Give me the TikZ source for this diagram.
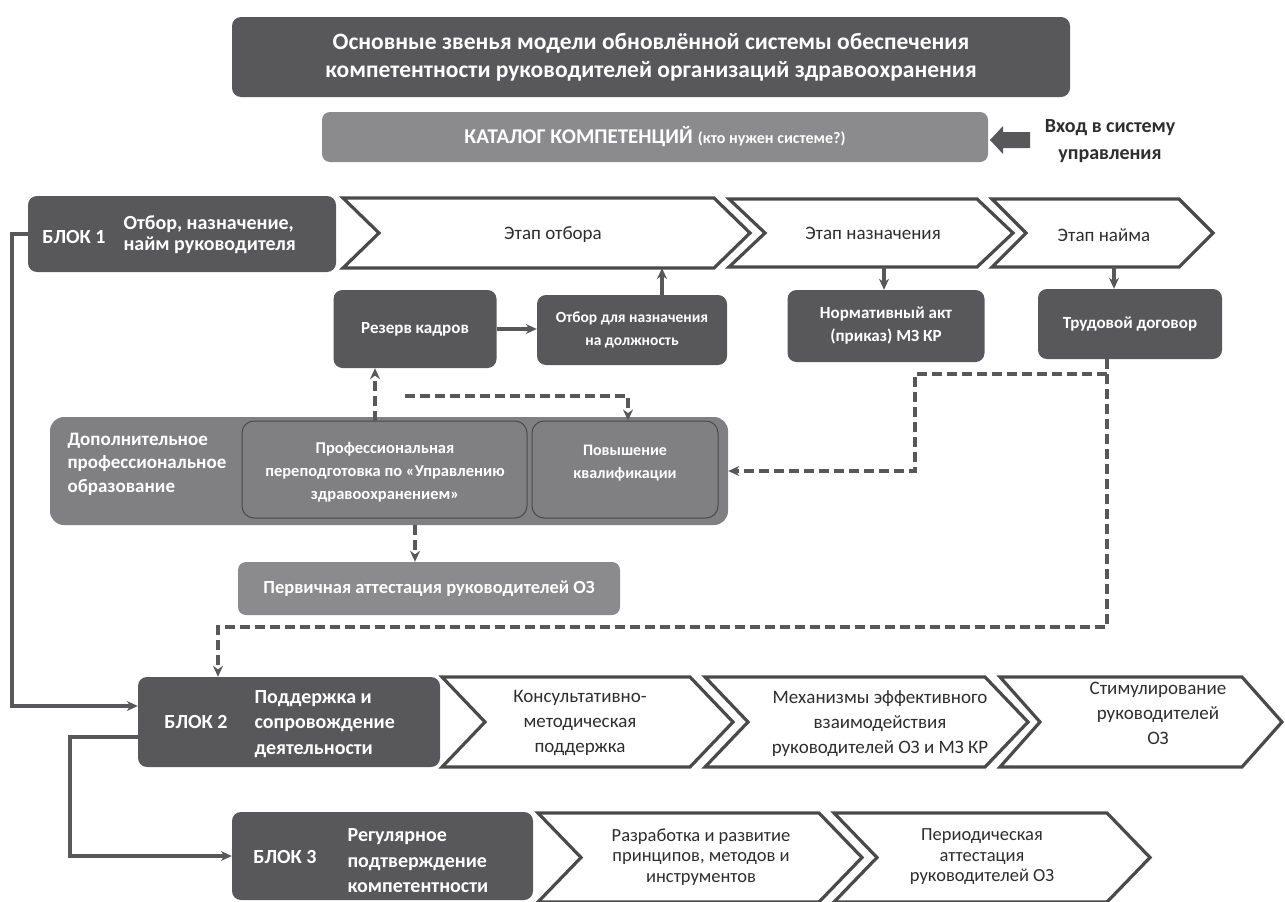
\documentclass[tikz,border=0pt]{standalone}
\usepackage{fontspec}
\setmainfont{Carlito}
\usetikzlibrary{arrows.meta}
\definecolor{dk}{HTML}{58585A}
\definecolor{md}{HTML}{8B8B8D}
\definecolor{dpo}{HTML}{808082}
\definecolor{ln}{HTML}{58585A}
\definecolor{chb}{HTML}{4A4A4A}
\definecolor{tx}{HTML}{2E2E2E}
\newcommand{\chev}[5]{% x1, x2, ytop, ybot, depth
  \draw[chevline] (#1,#3) -- ({#2-#5},#3) -- (#2,{(#3+#4)/2}) -- ({#2-#5},#4) -- (#1,#4) -- ({#1+#5},{(#3+#4)/2}) -- cycle;}
\begin{document}
\begin{tikzpicture}[x=1pt,y=-1pt,
  darkbox/.style={rounded corners=9pt, fill=dk, draw=none, text=white, align=center, inner sep=0pt},
  midbox/.style={rounded corners=8pt, fill=md, draw=none, text=white, align=center, inner sep=0pt},
  innerbox/.style={rounded corners=12pt, fill=dpo, draw=chb, line width=1pt, text=white, align=center, inner sep=0pt},
  chevline/.style={draw=chb, line width=3.2pt, fill=white, line join=miter},
  chevtext/.style={text=tx, align=center, font=\fontsize{19}{25}\selectfont},
  boxtxt/.style={text=white, align=center, font=\fontsize{17}{23}\selectfont\bfseries},
  blklab/.style={text=white, font=\fontsize{20}{24}\selectfont\bfseries},
  blktxt/.style={text=white, align=left, anchor=west, font=\fontsize{20}{25.5}\selectfont\bfseries},
  conn/.style={draw=ln, line width=3.4pt, -{Stealth[length=11pt,width=10pt]}},
  dconn/.style={draw=ln, line width=3.4pt, dash pattern=on 10pt off 5pt, -{Stealth[length=11pt,width=10pt]}},
  dline/.style={draw=ln, line width=3.4pt, dash pattern=on 10pt off 5pt},
  sconn/.style={draw=ln, line width=3.4pt, -{Stealth[length=11pt,width=10pt]}},
]
\useasboundingbox (0,0) rectangle (1285,902);
\fill[white] (0,0) rectangle (1285,902);

% title
\node[darkbox, minimum width=838pt, minimum height=80pt, font=\fontsize{23.5}{28}\selectfont\bfseries] (title) at (651,57)
  {Основные звенья модели обновлённой системы обеспечения\\компетентности руководителей организаций здравоохранения};

% catalog
\node[midbox, minimum width=666pt, minimum height=50pt] (cat) at (655,137)
  {{\fontsize{21}{24}\selectfont\bfseries КАТАЛОГ КОМПЕТЕНЦИЙ}\hspace{5pt}{\fontsize{16}{18}\selectfont\bfseries (кто нужен системе?)}};
\fill[dk] (1030,132) -- (1003,132) -- (1003,126) -- (990,140) -- (1003,154) -- (1003,148) -- (1030,148) -- cycle;
\node[text=tx, align=center, font=\fontsize{20}{27}\selectfont\bfseries] (entry) at (1110,141) {Вход в систему\\управления};

% block 1
\node[darkbox, minimum width=308pt, minimum height=76pt] (b1) at (182,234) {};
\node[blklab] (b1lab) at (74,237) {БЛОК 1};
\node[blktxt, font=\fontsize{20}{21}\selectfont\bfseries] (b1txt) at (120,235) {Отбор, назначение,\\найм руководителя};

% row 1 chevrons
\chev{343}{750}{198}{268}{36}
\chev{729}{1013}{199}{267}{36}
\chev{992}{1213}{199}{267}{34}
\node[chevtext] (e1) at (553,235) {Этап отбора};
\node[chevtext] (e2) at (873,233) {Этап назначения};
\node[chevtext] (e3) at (1104,235) {Этап найма};
\coordinate (e1b) at (662,268);
\coordinate (e2b) at (884,267);
\coordinate (e3b) at (1114,267);

% row 1 boxes
\node[darkbox, minimum width=163pt, minimum height=78pt] (rez) at (415,329) {};
\node[boxtxt] (reztxt) at (rez.center) {Резерв кадров};
\node[darkbox, minimum width=190pt, minimum height=70pt] (otb) at (632,330) {};
\node[boxtxt, font=\fontsize{15.5}{23}\selectfont\bfseries] (otbtxt) at (otb.center) {Отбор для назначения\\на должность};
\node[darkbox, minimum width=197pt, minimum height=72pt] (norm) at (886,326) {};
\node[boxtxt] (normtxt) at (norm.center) {Нормативный акт\\(приказ) МЗ КР};
\node[darkbox, minimum width=184pt, minimum height=70pt] (trud) at (1130,324) {};
\node[boxtxt] (trudtxt) at (trud.center) {Трудовой договор};

\draw[conn] (rez.east) -- (rez.east -| otb.west);
\draw[conn] (otb.north -| e1b) -- (e1b);
\draw[conn] (e2b) -- (e2b |- norm.north);
\draw[conn] (e3b) -- (e3b |- trud.north);

% DPO
\node[rounded corners=14pt, fill=dpo, minimum width=678pt, minimum height=108pt, inner sep=0pt] (dpo) at (389,471) {};
\node[text=white, align=left, anchor=west, font=\fontsize{19}{23.5}\selectfont\bfseries] (dpotxt) at (64,464)
  {Дополнительное\\профессиональное\\образование};
\node[innerbox, minimum width=285pt, minimum height=97pt] (prof) at (384.5,469.5) {};
\node[boxtxt, font=\fontsize{16.5}{23}\selectfont\bfseries] (proftxt) at (385,472) {Профессиональная\\переподготовка по «Управлению\\здравоохранением»};
\node[innerbox, minimum width=186pt, minimum height=97pt] (pov) at (625,469.5) {};
\node[boxtxt, font=\fontsize{16}{23}\selectfont\bfseries] (povtxt) at (625,463) {Повышение\\квалификации};

\node[midbox, minimum width=382pt, minimum height=53pt, font=\fontsize{18.5}{20}\selectfont\bfseries] (perv) at (429,588.5)
  {Первичная аттестация руководителей ОЗ};

% dashed connectors
\coordinate (pa) at (375,0);
\draw[dconn] (prof.north -| pa) -- (rez.south -| pa);
\coordinate (q0) at (405,396);
\draw[dconn] (q0) -| ([xshift=3pt]pov.north);
\coordinate (tbx) at (1107,0);
\coordinate (tk) at (1107,374);
\draw[dline] (trud.south -| tbx) -- (tk);
\coordinate (k1) at (915,374);
\draw[dconn] (tk) -- (k1) |- (dpo.east);
\coordinate (px) at (415,0);
\draw[dconn] (dpo.south -| px) -- (perv.north -| px);

% block 2
\node[darkbox, minimum width=302pt, minimum height=90pt] (b2) at (289,722) {};
\node[blklab] (b2lab) at (196,722) {БЛОК 2};
\node[blktxt] (b2txt) at (251,724) {Поддержка и\\сопровождение\\деятельности};

\coordinate (c218) at (218,627);
\draw[dconn] (tk) |- (c218) -- (b2.north -| c218);

% block 3
\node[darkbox, minimum width=301pt, minimum height=88pt] (b3) at (382.5,856) {};
\node[blklab] (b3lab) at (285,857) {БЛОК 3};
\node[blktxt] (b3txt) at (344,861) {Регулярное\\подтверждение\\компетентности};

% solid connectors
\coordinate (s1) at (12,706);
\draw[sconn] (b1.west) -| (s1) -- (b2.west |- s1);
\coordinate (s2) at (70,737);
\draw[sconn] (b2.west |- s2) -- (s2) |- (b3.west);

% row 2 chevrons
\chev{442}{733}{677}{767}{43}
\chev{705}{1028}{677}{767}{43}
\chev{1000}{1282}{677}{767}{40}
\node[chevtext] (k1t) at (580,723) {Консультативно-\\методическая\\поддержка};
\node[chevtext] (k2t) at (880,724) {Механизмы эффективного\\взаимодействия\\руководителей ОЗ и МЗ КР};
\node[chevtext] (k3t) at (1158,713) {Стимулирование\\руководителей\\ОЗ};

% row 3 chevrons
\chev{538}{862}{813}{902}{43}
\chev{834}{1150}{813}{902}{43}
\node[chevtext, font=\fontsize{18.5}{20.5}\selectfont] (r1t) at (701,857) {Разработка и развитие\\принципов, методов и\\инструментов};
\node[chevtext, font=\fontsize{18.5}{20.5}\selectfont] (r2t) at (982,857) {Периодическая\\аттестация\\руководителей ОЗ};
\end{tikzpicture}
\end{document}
